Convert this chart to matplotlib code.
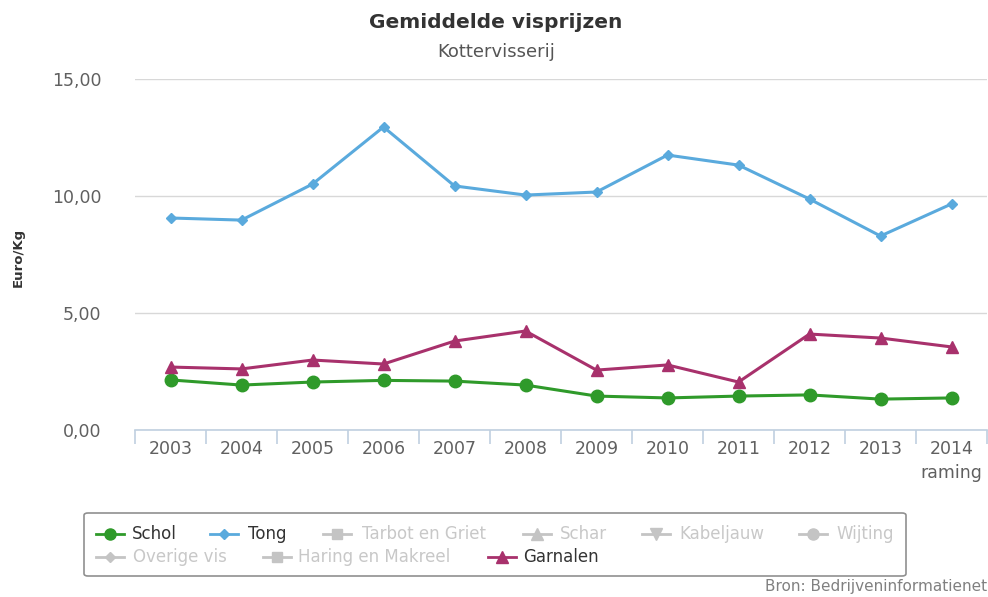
import matplotlib
matplotlib.use("Agg")
from matplotlib import pyplot as plt
from matplotlib.lines import Line2D
from matplotlib.patches import FancyBboxPatch

years = ['2003', '2004', '2005', '2006', '2007', '2008', '2009', '2010', '2011', '2012', '2013', '2014\nraming']
schol = [2.14, 1.92, 2.05, 2.12, 2.09, 1.92, 1.45, 1.37, 1.45, 1.50, 1.32, 1.37]
tong = [9.06, 8.97, 10.51, 12.95, 10.43, 10.04, 10.17, 11.75, 11.32, 9.87, 8.29, 9.66]
garnalen = [2.69, 2.61, 2.99, 2.82, 3.80, 4.23, 2.56, 2.78, 2.05, 4.10, 3.93, 3.55]

green = '#2f9a2a'
blue = '#5aaadd'
purple = '#a8316c'
grey = '#c4c4c4'

W, H = 988, 597
fig = plt.figure(figsize=[9.88, 5.97], dpi=100)
ax = fig.add_axes([135/W, 1-430/H, (987-135)/W, (430-79)/H])

x = range(len(years))
ax.plot(x, schol, color=green, lw=2.2, marker='o', ms=9, zorder=3)
ax.plot(x, tong, color=blue, lw=2.2, marker='D', ms=5.5, zorder=3)
ax.plot(x, garnalen, color=purple, lw=2.2, marker='^', ms=8, zorder=3)

ax.set_xlim(-0.5, len(years)-0.5)
ax.set_ylim(0, 15)
ax.set_yticks([0, 5, 10, 15])
ax.set_yticklabels(['0,00', '5,00', '10,00', '15,00'])
ax.grid(axis='y', color='#d8d8d8', lw=1)
ax.set_axisbelow(True)
for s in ['top', 'right', 'left']:
    ax.spines[s].set_visible(False)
ax.spines['bottom'].set_color('#c0d0e0')
ax.spines['bottom'].set_linewidth(1.2)

ax.set_xticks(list(x))
ax.set_xticklabels(years, fontsize=12.5, color='#606060', linespacing=1.45, va='top')
ax.tick_params(axis='x', length=0, pad=7)
ax.set_xticks([i-0.5 for i in range(len(years)+1)], minor=True)
ax.tick_params(axis='x', which='minor', length=10, color='#c0d0e0', width=1.2)
ax.tick_params(axis='y', length=0, pad=24, labelsize=12.5, labelcolor='#606060')

fig.text(18/W, 1-257/H, 'Euro/Kg', rotation=90, fontsize=9.5, fontweight='bold',
         color='#333333', ha='center', va='center')
fig.text(496/W, 1-22/H, 'Gemiddelde visprijzen', fontsize=14.5, fontweight='bold',
         color='#333333', ha='center', va='center')
fig.text(496/W, 1-52/H, 'Kottervisserij', fontsize=13, color='#555555',
         ha='center', va='center')
fig.text(987/W, 1-587/H, 'Bron: Bedrijveninformatienet', fontsize=11, color='#808080',
         ha='right', va='center')

# legend box
box = FancyBboxPatch((84/W, 1-576/H), (906-84)/W, (576-513)/H,
                     boxstyle='round,pad=0,rounding_size=0.004', transform=fig.transFigure,
                     fill=False, edgecolor='#909090', lw=1.2)
fig.add_artist(box)

legend_items = [
    # label, marker, color, marker x, text x, row y, active
    ('Schol', 'o', green, 110, 132, 534, True),
    ('Tong', 'D', blue, 224, 248, 534, True),
    ('Tarbot en Griet', 's', grey, 337, 362, 534, False),
    ('Schar', '^', grey, 537, 560, 534, False),
    ('Kabeljauw', 'v', grey, 656, 679, 534, False),
    ('Wijting', 'o', grey, 813, 836, 534, False),
    ('Overige vis', 'D', grey, 110, 133, 557, False),
    ('Haring en Makreel', 's', grey, 277, 298, 557, False),
    ('Garnalen', '^', purple, 502, 523, 557, True),
]
for label, m, c, mx, tx, ry, active in legend_items:
    ms = {'o': 8, 'D': 5, 's': 7, '^': 8, 'v': 8}[m]
    fig.add_artist(Line2D([(mx-14)/W, (mx+14)/W], [1-ry/H, 1-ry/H], color=c, lw=2,
                          transform=fig.transFigure))
    fig.add_artist(Line2D([mx/W], [1-ry/H], color=c, marker=m, ms=ms, lw=0,
                          transform=fig.transFigure))
    fig.text(tx/W, 1-ry/H, label, fontsize=12, color='#333333' if active else '#c8c8c8',
             ha='left', va='center')

fig.savefig('out.png', dpi=100)
